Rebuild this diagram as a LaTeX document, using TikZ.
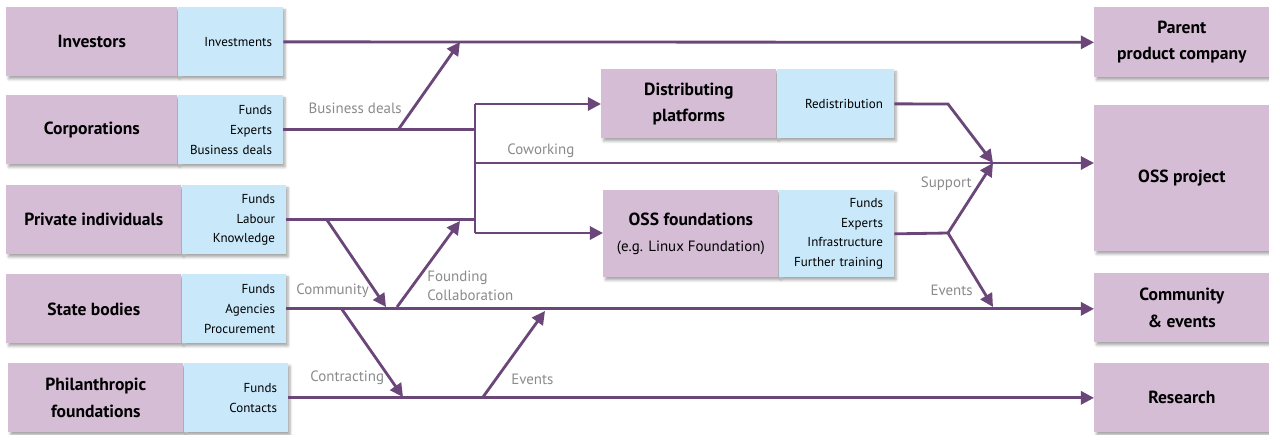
\documentclass[tikz,border=0pt]{standalone}
\usepackage{fontspec}
\setmainfont{PT Sans}
\usepackage{xcolor}
\usetikzlibrary{arrows.meta,shadows.blur}

\definecolor{boxpurple}{HTML}{D5BDD6}
\definecolor{boxblue}{HTML}{C9E8FA}
\definecolor{flowpurple}{HTML}{6A4679}
\definecolor{notegray}{HTML}{8A8A8A}

\begin{document}
\begin{tikzpicture}[x=0.02cm,y=-0.02cm,
  boxshadow/.style={blur shadow={shadow xshift=1.2pt,shadow yshift=-1.5pt,shadow blur radius=1.5pt,shadow opacity=35}},
  actor/.style={boxshadow,fill=boxpurple,anchor=north west,minimum height=1.38cm,inner sep=0pt,align=center,font=\bfseries\fontsize{10}{15}\selectfont},
  offer/.style={boxshadow,fill=boxblue,anchor=north west,minimum height=1.38cm,text width=#1,align=right,inner xsep=0.22cm,inner ysep=0pt,font=\fontsize{7.4}{11.2}\selectfont},
  note/.style={text=notegray,inner sep=0pt,font=\fontsize{8.5}{10.8}\selectfont},
  flow/.style={draw=flowpurple,line width=1.6pt},
  arr/.style={flow,-{Triangle[length=7.5pt,width=7.5pt]}}]
\useasboundingbox (0,0) rectangle (1269,434);

% sources
\node[actor,minimum width=3.42cm] (inv) at (6,7) {Investors};
\node[offer=1.66cm] (invR) at (inv.north east) {Investments};
\node[actor,minimum width=3.42cm] (cor) at (6,95) {Corporations};
\node[offer=1.66cm] (corR) at (cor.north east) {Funds\\Experts\\Business deals};
\node[actor,minimum width=3.5cm] (pri) at (6,185) {Private individuals};
\node[offer=1.64cm] (priR) at (pri.north east) {Funds\\Labour\\Knowledge};
\node[actor,minimum width=3.5cm] (sta) at (6,274) {State bodies};
\node[offer=1.64cm] (staR) at (sta.north east) {Funds\\Agencies\\Procurement};
\node[actor,minimum width=3.5cm] (phi) at (8,363) {Philanthropic\\foundations};
\node[offer=1.64cm] (phiR) at (phi.north east) {Funds\\Contacts};

% intermediaries
\node[actor,minimum width=3.5cm] (dist) at (601,69) {Distributing\\platforms};
\node[offer=1.9cm] (distR) at (dist.north east) {Redistribution};
\node[actor,minimum width=3.5cm,minimum height=1.74cm] (fdn) at (603,190) {OSS foundations\\{\mdseries\fontsize{8.5}{11}\selectfont(e.g. Linux Foundation)}};
\node[offer=1.86cm,minimum height=1.74cm] (fdnR) at (fdn.north east) {Funds\\Experts\\Infrastructure\\Further training};

% targets
\node[actor,minimum width=3.5cm,minimum height=1.4cm] (ppc) at (1094,7) {Parent\\product company};
\node[actor,minimum width=3.5cm,minimum height=2.92cm] (oss) at (1094,105) {OSS project};
\node[actor,minimum width=3.5cm] (cev) at (1094,273) {Community\\\& events};
\node[actor,minimum width=3.5cm] (res) at (1094,363) {Research};

\coordinate (sTop) at (475,104);
\coordinate (sCow) at (475,163);
\coordinate (sBot) at (475,233);
\coordinate (bizA) at (398,130);
\coordinate (bizB) at (460,42);
\coordinate (comA) at (327,220);
\coordinate (comB) at (386,307);
\coordinate (fndA) at (397,307);
\coordinate (fndB) at (460,221);
\coordinate (conA) at (341,308);
\coordinate (conB) at (403,397);
\coordinate (evA) at (483,397);
\coordinate (evB) at (545,311);
\coordinate (rBend) at (948,104);
\coordinate (fBend) at (948,233);
\coordinate (merge) at (993,163);
\coordinate (evIn) at (993,307);

\draw[arr] (invR.east) -- (ppc.west);
\draw[flow] (corR.east) -- (corR.east -| sTop);
\draw[flow] (priR.east) -- (priR.east -| sTop);
\draw[flow] (sTop) -- (sBot);
\draw[arr] (sTop) -- (sTop -| dist.west);
\draw[arr] (sBot) -- (sBot -| fdn.west);
\draw[arr] (sCow) -- (sCow -| oss.west);
\draw[arr] (staR.east) -- (staR.east -| cev.west);
\draw[arr] (phiR.east) -- (phiR.east -| res.west);

\draw[arr] (bizA) -- (bizB);
\draw[arr] (comA) -- (comB);
\draw[arr] (fndA) -- (fndB);
\draw[arr] (conA) -- (conB);
\draw[arr] (evA) -- (evB);

\draw[arr] (distR.east) -- (rBend) -- (merge);
\draw[flow] (fdnR.east) -- (fBend);
\draw[arr] (fBend) -- (merge);
\draw[arr] (fBend) -- (evIn);

% labels
\node[note,anchor=east] (nBiz) at (402,108) {Business deals};
\node[note,anchor=west] (nCow) at (507,151) {Coworking};
\node[note,anchor=west] (nCom) at (296,291) {Community};
\node[note,anchor=west,align=left] (nFnd) at (427,285.5) {Founding\\Collaboration};
\node[note,anchor=west] (nCon) at (310,378) {Contracting};
\node[note,anchor=west] (nEv) at (511,379) {Events};
\node[note,anchor=east] (nSup) at (972,184) {Support};
\node[note,anchor=east] (nEvR) at (973,290) {Events};
\end{tikzpicture}
\end{document}
